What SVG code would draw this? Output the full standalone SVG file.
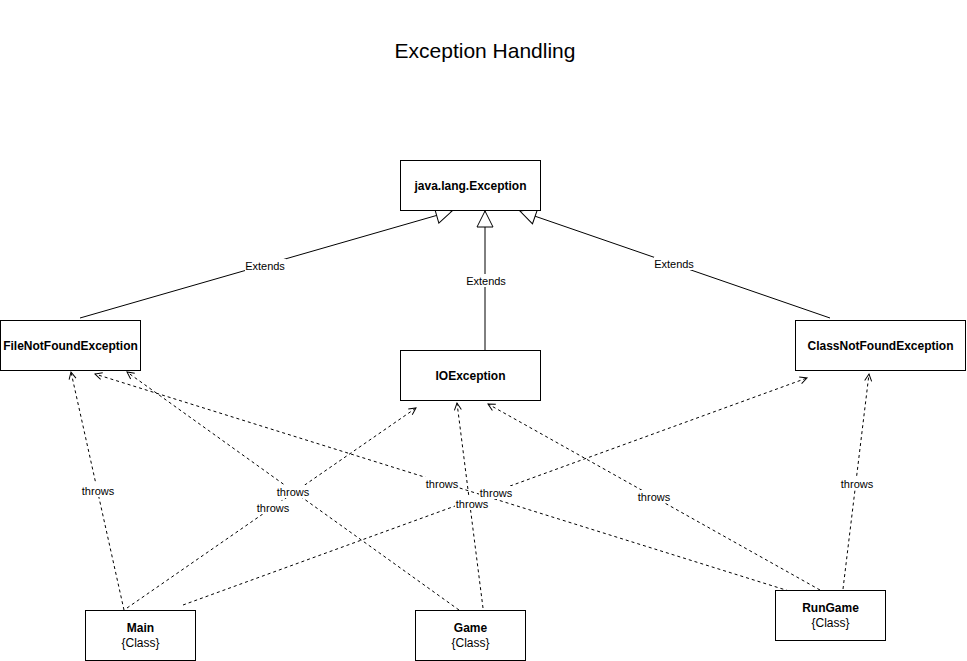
<svg xmlns="http://www.w3.org/2000/svg" width="967" height="661" viewBox="0 0 967 661">
<style>
.box{fill:#fff;stroke:#000;stroke-width:1}
.nt{font-family:"Liberation Sans",Arial,sans-serif;font-size:12px;font-weight:bold;fill:#000;text-anchor:middle;dominant-baseline:central}
.st{font-family:"Liberation Sans",Arial,sans-serif;font-size:12px;fill:#000;text-anchor:middle;dominant-baseline:central}
.ext{fill:none;stroke:#000;stroke-width:1;marker-end:url(#tri)}
.thr{fill:none;stroke:#000;stroke-width:1;stroke-dasharray:3 3;marker-end:url(#open)}
.lbl{font-family:"Liberation Sans",Arial,sans-serif;font-size:11px;fill:#000;text-anchor:middle;dominant-baseline:central}
.lb{fill:#fff}
.title{font-family:"Liberation Sans",Arial,sans-serif;font-size:21px;fill:#000;text-anchor:middle;dominant-baseline:central}
</style>
<defs>
<marker id="tri" markerUnits="userSpaceOnUse" markerWidth="18" markerHeight="18" refX="16" refY="8" orient="auto" viewBox="-1 -1 18 18">
<path d="M0,0 L16,8 L0,16 Z" fill="#fff" stroke="#000" stroke-width="1"/>
</marker>
<marker id="open" markerUnits="userSpaceOnUse" markerWidth="11" markerHeight="11" refX="8" refY="4.5" orient="auto" viewBox="-1 -1 11 11">
<path d="M1,1 L8,4.5 L1,8" fill="none" stroke="#000" stroke-width="1"/>
</marker>
</defs>
<rect width="967" height="661" fill="#fff"/>
<text class="title" x="485" y="50">Exception Handling</text>
<g id="connectors">
<line class="ext" x1="80" y1="318" x2="452" y2="211"/>
<line class="ext" x1="485" y1="350" x2="485" y2="211"/>
<line class="ext" x1="830" y1="318" x2="520" y2="211"/>
<line class="thr" x1="124" y1="610" x2="71" y2="372"/>
<line class="thr" x1="127" y1="608" x2="416" y2="408"/>
<line class="thr" x1="183" y1="605" x2="807" y2="378"/>
<line class="thr" x1="459" y1="610" x2="127" y2="372"/>
<line class="thr" x1="483" y1="608" x2="457" y2="403"/>
<line class="thr" x1="789" y1="591" x2="95" y2="374"/>
<line class="thr" x1="820" y1="590" x2="488" y2="404"/>
<line class="thr" x1="843" y1="589" x2="869" y2="374"/>
<rect class="lb" x="245" y="259" width="41" height="13"/><text class="lbl" x="265" y="266">Extends</text>
<rect class="lb" x="466" y="274" width="41" height="13"/><text class="lbl" x="486" y="281">Extends</text>
<rect class="lb" x="654" y="257" width="41" height="13"/><text class="lbl" x="674" y="264">Extends</text>
<rect class="lb" x="81" y="484" width="34" height="13"/><text class="lbl" x="98" y="491">throws</text>
<rect class="lb" x="256" y="501" width="34" height="13"/><text class="lbl" x="273" y="508">throws</text>
<rect class="lb" x="276" y="485" width="34" height="13"/><text class="lbl" x="293" y="492">throws</text>
<rect class="lb" x="425" y="477" width="34" height="13"/><text class="lbl" x="442" y="484">throws</text>
<rect class="lb" x="479" y="486" width="34" height="13"/><text class="lbl" x="496" y="493">throws</text>
<rect class="lb" x="455" y="497" width="34" height="13"/><text class="lbl" x="472" y="504">throws</text>
<rect class="lb" x="637" y="490" width="34" height="13"/><text class="lbl" x="654" y="497">throws</text>
<rect class="lb" x="840" y="477" width="34" height="13"/><text class="lbl" x="857" y="484">throws</text>
</g>
<g id="java-lang-exception"><rect class="box" x="400.5" y="160.5" width="140" height="50"/><text class="nt" x="470.5" y="185.5">java.lang.Exception</text></g>
<g id="filenotfoundexception"><rect class="box" x="0.5" y="320.5" width="140" height="50"/><text class="nt" x="70.5" y="345.5">FileNotFoundException</text></g>
<g id="ioexception"><rect class="box" x="400.5" y="350.5" width="140" height="50"/><text class="nt" x="470.5" y="375.5">IOException</text></g>
<g id="classnotfoundexception"><rect class="box" x="795.5" y="320.5" width="170" height="50"/><text class="nt" x="880.5" y="345.5">ClassNotFoundException</text></g>
<g id="main"><rect class="box" x="85.5" y="610.5" width="110" height="50"/><text class="nt" x="140.5" y="628">Main</text><text class="st" x="140.5" y="643">{Class}</text></g>
<g id="game"><rect class="box" x="415.5" y="610.5" width="110" height="50"/><text class="nt" x="470.5" y="628">Game</text><text class="st" x="470.5" y="643">{Class}</text></g>
<g id="rungame"><rect class="box" x="775.5" y="590.5" width="110" height="50"/><text class="nt" x="830.5" y="608">RunGame</text><text class="st" x="830.5" y="623">{Class}</text></g>
</svg>
